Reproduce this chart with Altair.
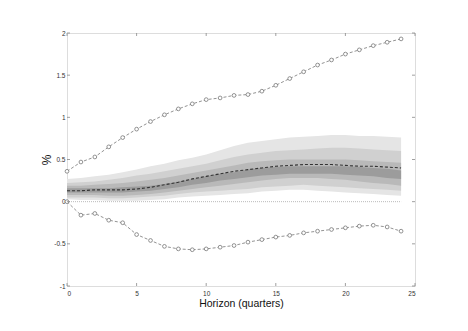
import altair as alt
import pandas as pd

t = list(range(25))

upper = [0.36, 0.47, 0.53, 0.65, 0.76, 0.86, 0.95, 1.03, 1.10, 1.16, 1.21, 1.23, 1.26,
         1.27, 1.31, 1.38, 1.46, 1.54, 1.62, 1.68, 1.75, 1.80, 1.85, 1.89, 1.93]
lower = [0.00, -0.16, -0.14, -0.22, -0.25, -0.39, -0.46, -0.53, -0.56, -0.57, -0.56, -0.54,
         -0.52, -0.48, -0.45, -0.42, -0.40, -0.37, -0.35, -0.33, -0.31, -0.29, -0.28, -0.30, -0.35]
mean = [0.13, 0.13, 0.14, 0.14, 0.14, 0.15, 0.17, 0.20, 0.23, 0.27, 0.30, 0.33, 0.36,
        0.38, 0.40, 0.42, 0.43, 0.44, 0.44, 0.44, 0.43, 0.42, 0.42, 0.41, 0.40]

b1_hi = [0.27, 0.28, 0.30, 0.32, 0.35, 0.38, 0.42, 0.45, 0.49, 0.52, 0.56, 0.61, 0.66,
         0.70, 0.72, 0.74, 0.76, 0.77, 0.78, 0.79, 0.79, 0.78, 0.78, 0.77, 0.76]
b1_lo = [0.03, 0.02, 0.02, 0.01, 0.01, 0.01, 0.02, 0.03, 0.05, 0.06, 0.07, 0.08, 0.09,
         0.10, 0.12, 0.13, 0.14, 0.14, 0.13, 0.12, 0.11, 0.10, 0.09, 0.08, 0.07]
b2_hi = [0.22, 0.23, 0.24, 0.26, 0.28, 0.31, 0.33, 0.36, 0.39, 0.42, 0.45, 0.49, 0.53,
         0.56, 0.58, 0.60, 0.61, 0.62, 0.63, 0.64, 0.64, 0.63, 0.62, 0.61, 0.60]
b2_lo = [0.05, 0.05, 0.05, 0.04, 0.04, 0.05, 0.06, 0.07, 0.09, 0.11, 0.12, 0.13, 0.14,
         0.15, 0.17, 0.18, 0.19, 0.20, 0.19, 0.18, 0.17, 0.16, 0.15, 0.14, 0.13]
b3_hi = [0.19, 0.19, 0.20, 0.21, 0.22, 0.24, 0.26, 0.28, 0.31, 0.34, 0.37, 0.40, 0.43,
         0.46, 0.48, 0.49, 0.50, 0.50, 0.50, 0.50, 0.50, 0.49, 0.48, 0.47, 0.46]
b3_lo = [0.08, 0.08, 0.08, 0.07, 0.07, 0.08, 0.09, 0.11, 0.13, 0.15, 0.17, 0.19, 0.21,
         0.23, 0.25, 0.27, 0.28, 0.28, 0.28, 0.27, 0.26, 0.24, 0.22, 0.21, 0.19]
b4_hi = [0.16, 0.16, 0.16, 0.16, 0.17, 0.18, 0.19, 0.21, 0.24, 0.27, 0.30, 0.33, 0.35,
         0.38, 0.40, 0.41, 0.42, 0.42, 0.42, 0.42, 0.42, 0.41, 0.40, 0.39, 0.37]
b4_lo = [0.11, 0.11, 0.11, 0.11, 0.11, 0.12, 0.13, 0.15, 0.17, 0.20, 0.22, 0.25, 0.27,
         0.29, 0.31, 0.32, 0.33, 0.33, 0.33, 0.33, 0.32, 0.31, 0.30, 0.28, 0.27]
zero = [0.0] * 25

x_ticks = [0, 5, 10, 15, 20, 25]
y_ticks = [-1, -0.5, 0, 0.5, 1, 1.5, 2]

band_colors = ["#e5e5e5", "#d0d0d0", "#b9b9b9", "#9c9c9c"]

W, H = 348, 253

df = pd.DataFrame({"t": t, "upper": upper, "lower": lower, "mean": mean, "zero": zero,
                   "b1_hi": b1_hi, "b1_lo": b1_lo, "b2_hi": b2_hi, "b2_lo": b2_lo,
                   "b3_hi": b3_hi, "b3_lo": b3_lo, "b4_hi": b4_hi, "b4_lo": b4_lo})

xs = alt.Scale(domain=[0, 25], nice=False)
ys = alt.Scale(domain=[-1, 2], nice=False)

x_axis = alt.Axis(values=x_ticks, ticks=False, domain=False, grid=False, labelFontSize=6.5,
                  labelColor="#333", labelPadding=4, labelExpr="toString(datum.value)",
                  title="Horizon (quarters)",
                  titleFontSize=10.5, titleFontWeight="normal", titlePadding=2, titleColor="#111")
y_axis = alt.Axis(values=y_ticks, ticks=False, domain=False, grid=False, labelFontSize=6.5,
                  labelColor="#333", labelPadding=2, labelExpr="toString(datum.value)",
                  title="%", titleFontSize=12, titleX=-14, titleY=H / 2,
                  titleFontWeight="normal", titleColor="#111")


def X(field):
    return alt.X(field, scale=xs, axis=x_axis)


def Y(field):
    return alt.Y(field, scale=ys, axis=y_axis)


base = alt.Chart(df)

layers = []
for i, (hi, lo) in enumerate([("b1_hi", "b1_lo"), ("b2_hi", "b2_lo"),
                              ("b3_hi", "b3_lo"), ("b4_hi", "b4_lo")]):
    layers.append(base.mark_area(color=band_colors[i], opacity=1).encode(
        x=X("t:Q"), y=Y(f"{hi}:Q"), y2=alt.Y2(f"{lo}:Q")))

zero_line = base.mark_line(color="#aaaaaa", strokeDash=[1, 1], strokeWidth=0.8).encode(
    x=X("t:Q"), y=Y("zero:Q"))
mean_line = base.mark_line(color="#333333", strokeDash=[3, 2], strokeWidth=1.1).encode(
    x=X("t:Q"), y=Y("mean:Q"))


def ci_line(col):
    ln = base.mark_line(color="#777777", strokeDash=[3, 2], strokeWidth=0.8).encode(
        x=X("t:Q"), y=Y(f"{col}:Q"))
    pt = base.mark_point(shape="circle", size=14, filled=False, color="#777777",
                         fill="white", fillOpacity=1, strokeWidth=0.8).encode(
        x=X("t:Q"), y=Y(f"{col}:Q"))
    return [ln, pt]


xt = pd.DataFrame({"xt": x_ticks})
yt = pd.DataFrame({"yt": y_ticks})
tick_col = "#888888"
xb = alt.Chart(xt).mark_rule(color=tick_col, strokeWidth=0.8).encode(
    x=X("xt:Q"), y=alt.value(H), y2=alt.value(H - 3))
xtop = alt.Chart(xt).mark_rule(color=tick_col, strokeWidth=0.8).encode(
    x=X("xt:Q"), y=alt.value(0), y2=alt.value(3))
yl = alt.Chart(yt).mark_rule(color=tick_col, strokeWidth=0.8).encode(
    y=Y("yt:Q"), x=alt.value(0), x2=alt.value(3))
yr = alt.Chart(yt).mark_rule(color=tick_col, strokeWidth=0.8).encode(
    y=Y("yt:Q"), x=alt.value(W), x2=alt.value(W - 3))

chart = alt.layer(*layers, zero_line, *ci_line("upper"), *ci_line("lower"), mean_line,
                  xb, xtop, yl, yr).properties(
    width=W, height=H,
    autosize=alt.AutoSizeParams(type="none"),
    padding={"left": 59, "top": 25, "right": 45, "bottom": 37},
).configure_view(stroke="#999999", strokeWidth=1).configure(
    font="Liberation Sans", background="white")

chart.save("out.html", embed_options={"renderer": "svg", "actions": False})
